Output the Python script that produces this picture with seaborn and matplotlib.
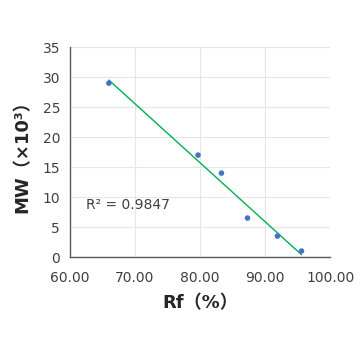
import numpy as np
import pandas as pd
import seaborn as sns
import matplotlib
matplotlib.use("Agg")
import matplotlib.pyplot as plt

# values
rf = [66.0, 79.7, 83.3, 87.3, 91.9, 95.6]
mw = [29.0, 17.0, 14.0, 6.5, 3.5, 1.0]
x_ticks = [60, 70, 80, 90, 100]
y_ticks = [0, 5, 10, 15, 20, 25, 30, 35]
r2_text = "R² = 0.9847"

df = pd.DataFrame({"Rf": rf, "MW": mw})

sns.set_style("white")
plt.rcParams["font.family"] = ["DejaVu Sans", "Noto Sans CJK JP"]

fig = plt.figure(figsize=(3.6, 3.6), dpi=100)
ax = fig.add_axes([0.194, 0.286, 0.723, 0.583])

# linear trend line (Excel style)
slope, intercept = np.polyfit(df["Rf"], df["MW"], 1)
xs = np.array([min(rf), max(rf)])
ax.plot(xs, slope * xs + intercept, color="#00B050", lw=1.0, zorder=2)

sns.scatterplot(data=df, x="Rf", y="MW", ax=ax, color="#4472C4", s=16,
                edgecolor="none", zorder=3)

ax.set_xlim(60, 100)
ax.set_ylim(0, 35)
ax.set_xticks(x_ticks)
ax.set_xticklabels([f"{t:.2f}" for t in x_ticks])
ax.set_yticks(y_ticks)
ax.grid(True, color="#e6e6e6", lw=0.8)
ax.set_axisbelow(True)

for s in ["top", "right"]:
    ax.spines[s].set_visible(False)
for s in ["left", "bottom"]:
    ax.spines[s].set_color("#595959")
    ax.spines[s].set_linewidth(1.0)
ax.tick_params(axis="both", labelsize=10, colors="#404040", length=4,
               width=1.0, direction="out", color="#595959", pad=3)
ax.tick_params(axis="x", pad=6)

ax.text(62.5, 8.7, r2_text, fontsize=10, color="#404040", va="center")

ax.set_xlabel("Rf（%）", fontsize=13, weight="bold", color="#262626", labelpad=7)
ax.set_ylabel("MW（×10³）", fontsize=13, weight="bold", color="#262626", labelpad=8)

fig.savefig("out.png", dpi=100)
